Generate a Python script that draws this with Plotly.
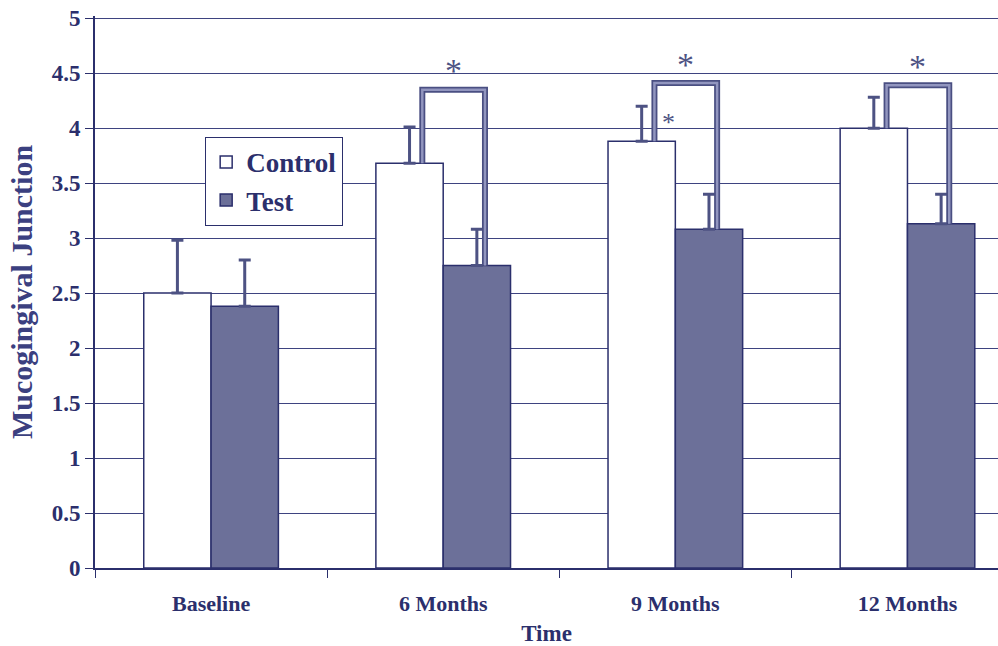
import plotly.graph_objects as go

categories = ["Baseline", "6 Months", "9 Months", "12 Months"]
control_values = [2.50, 3.68, 3.88, 4.00]
control_errors = [0.48, 0.33, 0.32, 0.28]
test_values = [2.38, 2.75, 3.08, 3.13]
test_errors = [0.42, 0.33, 0.32, 0.27]
bracket_tops = [None, 4.35, 4.41, 4.39]
y_ticks = [0, 0.5, 1, 1.5, 2, 2.5, 3, 3.5, 4, 4.5, 5]
y_tick_labels = ["0", "0.5", "1", "1.5", "2", "2.5", "3", "3.5", "4", "4.5", "5"]

NAVY = "#2b2f6c"
BAR_BLUE = "#6c7099"
ERR = "#4d5283"
SERIF = "Liberation Serif, Times New Roman, serif"

fig = go.Figure()
fig.add_trace(go.Bar(
    x=categories, y=control_values, name="Control", legendgroup="c",
    marker=dict(color="white", line=dict(color=NAVY, width=1.5)),
    error_y=dict(type="data", symmetric=False, array=control_errors,
                 arrayminus=[0] * len(control_errors), color=ERR, thickness=3, width=6),
))
fig.add_trace(go.Bar(
    x=categories, y=test_values, name="Test", legendgroup="t",
    marker=dict(color=BAR_BLUE, line=dict(color=NAVY, width=1.5)),
    error_y=dict(type="data", symmetric=False, array=test_errors,
                 arrayminus=[0] * len(test_errors), color=ERR, thickness=3, width=6),
))

shapes = []
annotations = []
for i, top in enumerate(bracket_tops):
    if top is None:
        continue
    xl, xr = i - 0.09, i + 0.18
    path = f"M {xl},{control_values[i]} L {xl},{top} L {xr},{top} L {xr},{test_values[i]}"
    shapes.append(dict(type="path", path=path, xref="x", yref="y",
                       line=dict(color="#4a4f82", width=6), layer="above"))
    shapes.append(dict(type="path", path=path, xref="x", yref="y",
                       line=dict(color="#9296bf", width=2.5), layer="above"))
    annotations.append(dict(x=(xl + xr) / 2, y=top + 0.17, xref="x", yref="y",
                            text="*", showarrow=False,
                            font=dict(family=SERIF, size=34, color="#4d5283")))
# small asterisk inside 9-month bracket
annotations.append(dict(x=2 - 0.03, y=4.05, xref="x", yref="y", text="*",
                        showarrow=False, font=dict(family=SERIF, size=26, color="#4d5283")))

fig.update_layout(
    width=998, height=646,
    margin=dict(l=95, r=0, t=16, b=78),
    paper_bgcolor="white", plot_bgcolor="white",
    barmode="group", bargap=0.42, bargroupgap=0,
    showlegend=True,
    legend=dict(x=0.122, y=0.781, xanchor="left", yanchor="top",
                bgcolor="white", bordercolor=NAVY, borderwidth=1,
                font=dict(family=SERIF, size=27, color=NAVY, weight="bold"),
                itemwidth=30, tracegroupgap=0, traceorder="grouped"),
    shapes=shapes, annotations=annotations,
    xaxis=dict(
        range=[-0.5, 3.39], tickson="boundaries", ticks="outside", ticklen=8,
        tickcolor=NAVY, showline=True, linecolor=NAVY, linewidth=2,
        tickfont=dict(family=SERIF, size=22, color=NAVY, weight="bold"),
        ticklabelstandoff=15, automargin=False,
        title=dict(text="Time", font=dict(family=SERIF, size=23, color=NAVY, weight="bold"),
                   standoff=12),
        showgrid=False,
    ),
    yaxis=dict(
        range=[0, 5.02], tickvals=y_ticks, ticktext=y_tick_labels,
        ticks="outside", ticklen=8, tickcolor=NAVY,
        showline=True, linecolor=NAVY, linewidth=2,
        showgrid=True, gridcolor="#3e4380", gridwidth=1,
        tickfont=dict(family=SERIF, size=23, color=NAVY, weight="bold"),
        ticklabeloverflow="allow",
        automargin=False,
        title=dict(text="Mucogingival Junction",
                   font=dict(family=SERIF, size=30, color="#3b4080", weight="bold"),
                   standoff=10),
        zeroline=False,
    ),
)

# remove the default 8px page margin so the figure fills the window exactly
fig.write_html("out.html",
               config={"displayModeBar": False},
               post_script="document.body.style.margin='0';document.body.style.overflow='hidden';")
